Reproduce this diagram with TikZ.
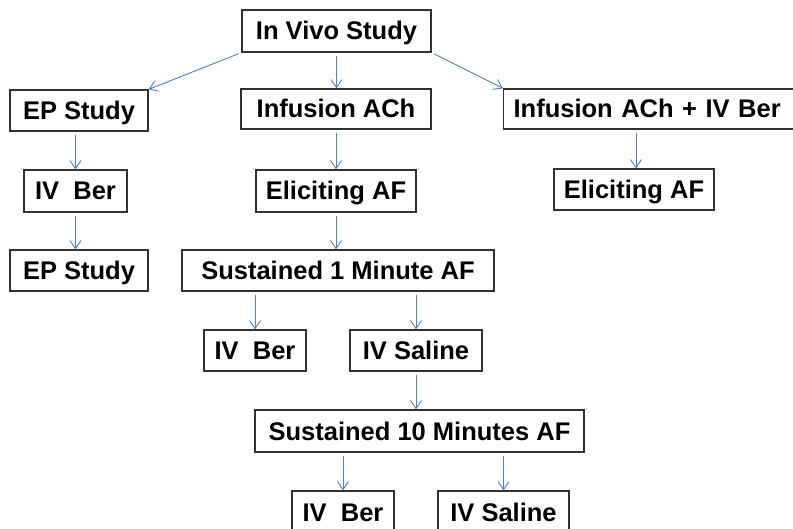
\documentclass[tikz,border=0pt]{standalone}
\usepackage{fontspec}
\setmainfont{Liberation Sans}
\usetikzlibrary{arrows.meta}
\definecolor{arrowblue}{RGB}{79,129,189}
\definecolor{boxline}{RGB}{50,50,50}
\tikzset{
  box/.style={draw=boxline, line width=1.3pt, inner sep=0pt, text height=18pt, text depth=0pt, font=\fontsize{25.5}{30}\selectfont\bfseries, text=black},
  conn/.style={draw=arrowblue, line width=0.9pt, -{Straight Barb[length=8pt,width=11pt,line width=0.9pt]}, shorten <=3pt}
}
\begin{document}
\begin{tikzpicture}[x=1pt,y=-1pt]
\useasboundingbox (0,0) rectangle (793,529);
\clip (0,0) rectangle (793,529);
\fill[white] (0,0) rectangle (793,529);
\node[box, minimum width=189pt, minimum height=42pt] (vivo) at (336.5,31) {In Vivo Study};
\node[box, minimum width=138pt, minimum height=41pt] (ep1) at (79,110.5) {EP Study};
\node[box, minimum width=190pt, minimum height=40pt] (inf) at (336,109) {Infusion ACh};
\node[box, anchor=west, text width=277pt, align=left, inner xsep=10pt, minimum height=40pt] (infber) at (503,109) {Infusion ACh + IV Ber};
\node[box, minimum width=103pt, minimum height=42pt] (ivber1) at (75.5,191) {IV\ \ Ber};
\node[box, minimum width=160pt, minimum height=42pt] (elic1) at (336,191) {Eliciting AF};
\node[box, minimum width=160pt, minimum height=41pt] (elic2) at (634,189.5) {Eliciting AF};
\node[box, minimum width=138pt, minimum height=41pt] (ep2) at (79,270.5) {EP Study};
\node[box, minimum width=312pt, minimum height=41pt] (sus1) at (338,270.5) {Sustained 1 Minute AF};
\node[box, minimum width=102pt, minimum height=41pt] (ivber2) at (255,350.5) {IV\ \ Ber};
\node[box, minimum width=132pt, minimum height=41pt] (ivsal1) at (416,350.5) {IV Saline\ };
\node[box, minimum width=329pt, minimum height=42pt] (sus10) at (419.5,431) {Sustained 10 Minutes AF};
\node[box, minimum width=102pt, minimum height=42pt] (ivber3) at (343,512) {IV\ \ Ber};
\node[box, minimum width=131pt, minimum height=42pt] (ivsal2) at (503.5,512) {IV Saline\ };
\coordinate (ib) at ([xshift=2pt]infber.south -| elic2.north);
% connectors
\draw[conn] (vivo.south west) -- (ep1.north east);
\draw[conn] (vivo.south) -- (vivo.south |- inf.north);
\draw[conn] (vivo.south east) -- (infber.north west);
\draw[conn] (ep1.south -| ivber1.north) -- (ivber1.north);
\draw[conn] (ivber1.south) -- (ivber1.south |- ep2.north);
\draw[conn] (inf.south) -- (elic1.north);
\draw[conn] (elic1.south) -- (elic1.south |- sus1.north);
\draw[conn] (ib) -- (ib |- elic2.north);
\draw[conn] (sus1.south -| ivber2.north) -- (ivber2.north);
\draw[conn] (sus1.south -| ivsal1.north) -- (ivsal1.north);
\draw[conn] (ivsal1.south) -- (ivsal1.south |- sus10.north);
\draw[conn] (sus10.south -| ivber3.north) -- (ivber3.north);
\draw[conn] (sus10.south -| ivsal2.north) -- (ivsal2.north);
\end{tikzpicture}
\end{document}
